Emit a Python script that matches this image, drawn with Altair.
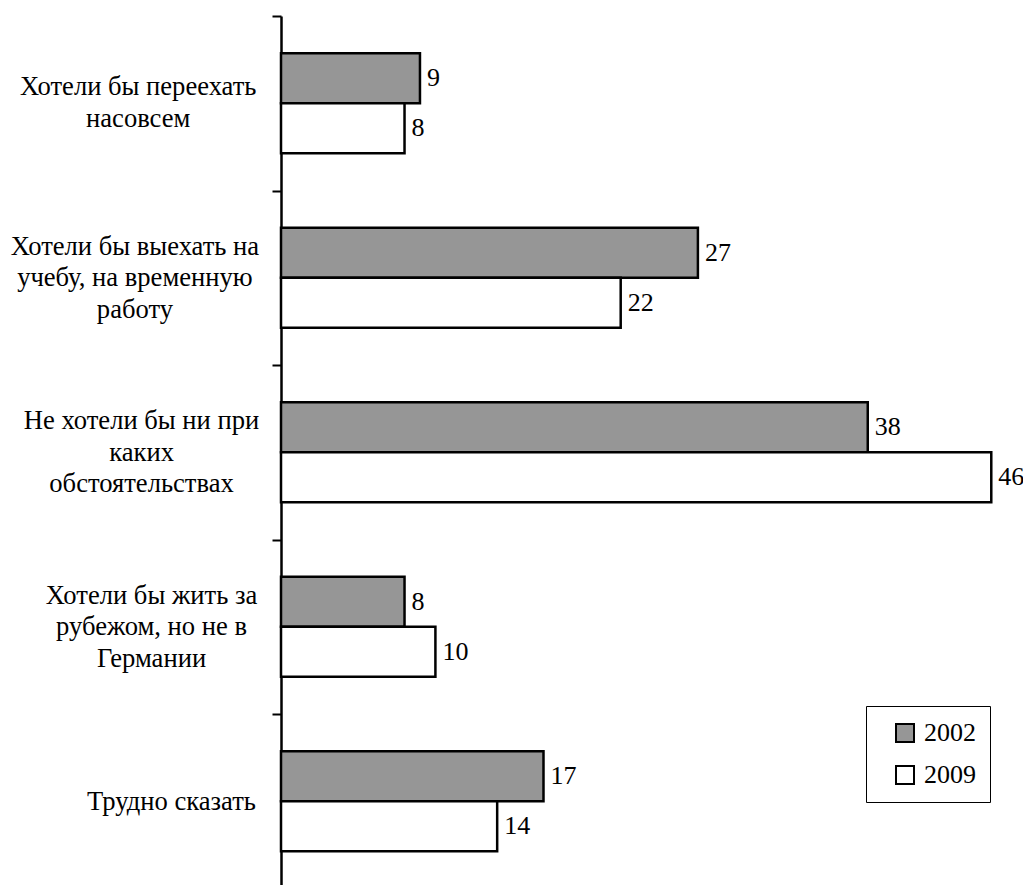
import altair as alt
import pandas as pd

# ---------------- data ----------------
categories = [
    "Хотели бы переехать насовсем",
    "Хотели бы выехать на учебу, на временную работу",
    "Не хотели бы ни при каких обстоятельствах",
    "Хотели бы жить за рубежом, но не в Германии",
    "Трудно сказать",
]
category_lines = [
    ["Хотели бы переехать", "насовсем"],
    ["Хотели бы выехать на", "учебу, на временную", "работу"],
    ["Не хотели бы ни при", "каких", "обстоятельствах"],
    ["Хотели бы жить за", "рубежом, но не в", "Германии"],
    ["Трудно сказать"],
]
years = ["2002", "2009"]
values_2002 = [9, 27, 38, 8, 17]
values_2009 = [8, 22, 46, 10, 14]

# ---------------- label layout helpers (Times-compatible metrics) ----------------
FONT = "Liberation Serif"
AXIS_FONT_SIZE = 26.6
FONT_SIZE = 26
LINE_H = 31.5
ADV = {
    " ": 250, ",": 250,
    "Х": 722, "Н": 722, "Т": 611, "Г": 578,
    "а": 444, "б": 508, "в": 472, "г": 410, "д": 509, "е": 444, "ж": 691,
    "з": 395, "и": 535, "й": 535, "к": 486, "л": 499, "м": 633, "н": 535,
    "о": 500, "п": 535, "р": 500, "с": 444, "т": 437, "у": 500, "ф": 648,
    "х": 500, "ц": 535, "ч": 503, "ш": 770, "щ": 770, "ъ": 517, "ы": 672,
    "ь": 456, "э": 429, "ю": 747, "я": 489,
}


def text_width(s):
    return 0.96 * sum(ADV.get(ch, 500) for ch in s) * AXIS_FONT_SIZE / 1000.0


NBSP = 0.25 * AXIS_FONT_SIZE
ZW = "\u200b"  # keeps Vega's trim() from dropping the leading no-break spaces
LABEL_GAP = 27  # gap between label block and axis line
TICK = 9
block_w = [max(text_width(l) for l in lines) for lines in category_lines]
D = LABEL_GAP + max(block_w) / 2 + 2
keys = []
two_line_keys = []
for lines, bw in zip(category_lines, block_w):
    n = max(0, round(2 * (D - LABEL_GAP - bw / 2) / NBSP))
    padded = [ZW + "\u00a0" * n + l for l in lines]
    if len(lines) == 1:
        padded = [ZW] + padded
    key = "|".join(padded)
    keys.append(key)
    if len(lines) == 2:
        two_line_keys.append(key)
label_padding = D - TICK

rows = []
for k, v1, v2 in zip(keys, values_2002, values_2009):
    rows.append({"key": k, "year": years[0], "value": v1})
    rows.append({"key": k, "year": years[1], "value": v2})
df = pd.DataFrame(rows)

two_line_test = "indexof([" + ",".join(
    "'" + k.replace("'", "\\'") + "'" for k in two_line_keys
) + "], datum.value) >= 0"

y_axis = alt.Axis(
    title=None,
    labelExpr="split(datum.label, '|')",
    labelAlign="center",
    labelBaseline={"condition": {"test": two_line_test, "value": "line-top"}, "value": "middle"},
    labelOffset=-LINE_H,
    labelFont=FONT,
    labelFontSize=AXIS_FONT_SIZE,
    labelColor="black",
    labelLineHeight=LINE_H,
    labelPadding=label_padding,
    labelLimit=1000,
    labelOverlap=False,
    ticks=True,
    tickBand="extent",
    tickSize=TICK,
    tickWidth=2,
    tickColor="black",
    domainColor="black",
    domainWidth=2.5,
    grid=False,
)

y_enc = alt.Y("key:N", sort=keys, scale=alt.Scale(paddingInner=0, paddingOuter=0), axis=y_axis)
yoff = alt.YOffset("year:N", sort=years, scale=alt.Scale(paddingInner=0, paddingOuter=0.745))
x_enc = alt.X("value:Q", scale=alt.Scale(domain=[0, 46.5], nice=False, zero=True), axis=None)

bars = alt.Chart(df).mark_bar(stroke="black", strokeWidth=2.5).encode(
    y=y_enc,
    yOffset=yoff,
    x=x_enc,
    color=alt.Color(
        "year:N",
        scale=alt.Scale(domain=years, range=["#969696", "#ffffff"]),
        legend=alt.Legend(
            title=None,
            orient="none",
            legendX=585,
            legendY=690,
            strokeColor="black",
            fillColor="white",
            padding=14,
            symbolOffset=12,
            symbolType="square",
            symbolSize=324,
            symbolStrokeColor="black",
            symbolStrokeWidth=2,
            labelFont=FONT,
            labelFontSize=FONT_SIZE,
            labelColor="black",
            labelOffset=6,
            rowPadding=16,
        ),
    ),
)

labels = alt.Chart(df).mark_text(
    align="left", baseline="middle", dx=7, font=FONT, fontSize=FONT_SIZE, color="black"
).encode(y=y_enc, yOffset=yoff, x=x_enc, text="value:Q")

chart = (
    alt.layer(bars, labels)
    .properties(
        width=718,
        height=872.5,
        padding={"left": 273, "top": 8, "right": 24, "bottom": 0},
        autosize=alt.AutoSizeParams(type="none"),
        background="white",
    )
    .configure_view(stroke=None)
)

chart.save("out.html", embed_options={"renderer": "svg", "actions": False})
